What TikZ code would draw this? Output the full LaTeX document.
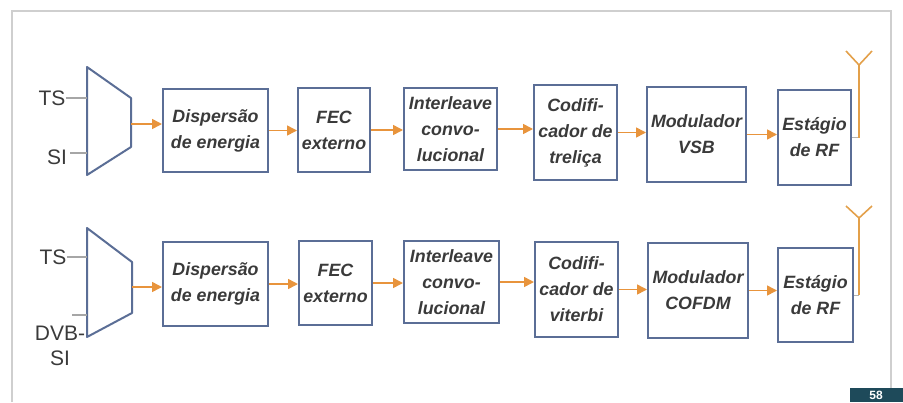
\documentclass[tikz,border=0pt]{standalone}
\usepackage{fontspec}
\setmainfont{Liberation Sans}
\usetikzlibrary{arrows.meta}
\definecolor{boxc}{HTML}{5B6E96}
\definecolor{arr}{HTML}{E8943C}
\definecolor{txt}{HTML}{3A3A3A}
\definecolor{framec}{HTML}{CFCFCF}
\definecolor{pg}{HTML}{1E4A5A}
\definecolor{antc}{HTML}{E3A04A}
\begin{document}
\begin{tikzpicture}[x=1pt,y=-1pt,
 blk/.style={draw=boxc,line width=2pt,fill=white,inner sep=0pt,align=center,text=txt,
   font=\fontsize{17.8}{26}\selectfont\bfseries\itshape},
 flow/.style={draw=arr,line width=1.6pt,-{Triangle[length=10pt,width=10pt]}},
 lbl/.style={text=txt,font=\fontsize{21}{25}\selectfont,inner sep=0pt,align=center},
 feed/.style={draw=gray!70,line width=1.2pt},
 mux/.style={draw=boxc,line width=2pt,fill=white,line join=round},
 ant/.style={draw=antc,line width=1.6pt},
 wire/.style={draw=gray!60,line width=1pt},
]
\useasboundingbox (0,0) rectangle (903,402);
% frame
\draw[framec,line width=1.5pt] (12,402) -- (12,11) -- (891,11) -- (891,388);
\fill[pg] (850,388) rectangle (903,402);
\node[text=white,font=\fontsize{12}{12}\selectfont\bfseries,inner sep=0pt] (pgn) at (876,395.5) {58};

% ---------- row 1 ----------
\draw[mux] (87,67) -- (131,98) -- (131,147) -- (87,175) -- cycle;
\coordinate (ml1) at (87,121);
\coordinate (mo1) at (131,124);
\node[lbl] (ts1) at (52,98) {TS};
\node[lbl] (si1) at (57,157) {SI};
\draw[feed] (ts1.east) -- (ts1.east -| ml1);
\draw[feed] ([yshift=4pt,xshift=3pt]si1.east) -- ([yshift=4pt]si1.east -| ml1);

\node[blk,minimum width=105pt,minimum height=83pt] (d1) at (215.5,130.5) {Dispersão\\de energia};
\node[blk,minimum width=72pt,minimum height=84pt] (f1) at (334,130) {FEC\\externo};
\node[blk,minimum width=93pt,minimum height=82pt] (i1) at (450.5,129) {Interleave\\convo-\\lucional};
\node[blk,minimum width=83pt,minimum height=95pt] (c1) at (575.5,132.5) {Codifi-\\cador de\\treliça};
\node[blk,minimum width=99pt,minimum height=95pt] (m1) at (696.5,134.5) {Modulador\\VSB};
\node[blk,minimum width=73pt,minimum height=95pt] (e1) at (814.5,137.5) {Estágio\\de RF};

\draw[flow] (mo1) -- (mo1 -| d1.west);
\draw[flow] (d1.east) -- (d1.east -| f1.west);
\draw[flow] (f1.east) -- (f1.east -| i1.west);
\draw[flow] (i1.east) -- (i1.east -| c1.west);
\draw[flow] (c1.east) -- (c1.east -| m1.west);
\draw[flow] (m1.east) -- (m1.east -| e1.west);

\coordinate (t1) at (859,65);
\coordinate (la1) at (846,51);
\coordinate (ra1) at (872,51);
\draw[wire] (e1.east) -- (e1.east -| t1);
\draw[ant] (e1.east -| t1) -- (t1);
\draw[ant] (la1) -- (t1) -- (ra1);

% ---------- row 2 ----------
\draw[mux] (87,228) -- (132,262) -- (132,313) -- (87,337) -- cycle;
\coordinate (ml2) at (87,282);
\coordinate (mo2) at (132,287);
\node[lbl] (ts2) at (53,257) {TS};
\node[lbl] (dv2) at (60,346) {DVB-\\SI};
\coordinate (dvw) at (72,315);
\draw[feed] (ts2.east) -- (ts2.east -| ml2);
\draw[feed] (dvw) -- (dvw -| ml2);

\node[blk,minimum width=105pt,minimum height=84pt] (d2) at (215.5,284) {Dispersão\\de energia};
\node[blk,minimum width=73pt,minimum height=84pt] (f2) at (335.5,283) {FEC\\externo};
\node[blk,minimum width=95pt,minimum height=82pt] (i2) at (451.5,282) {Interleave\\convo-\\lucional};
\node[blk,minimum width=83pt,minimum height=95pt] (c2) at (576.5,289.5) {Codifi-\\cador de\\viterbi};
\node[blk,minimum width=100pt,minimum height=95pt] (m2) at (698,290.5) {Modulador\\COFDM};
\node[blk,minimum width=75pt,minimum height=94pt] (e2) at (815.5,295) {Estágio\\de RF};

\draw[flow] (mo2) -- (mo2 -| d2.west);
\draw[flow] (d2.east) -- (d2.east -| f2.west);
\draw[flow] (f2.east) -- (f2.east -| i2.west);
\draw[flow] (i2.east) -- (i2.east -| c2.west);
\draw[flow] (c2.east) -- (c2.east -| m2.west);
\draw[flow] (m2.east) -- (m2.east -| e2.west);

\coordinate (t2) at (859,218);
\coordinate (la2) at (846,206);
\coordinate (ra2) at (872,206);
\draw[wire] (e2.east) -- (e2.east -| t2);
\draw[ant] (e2.east -| t2) -- (t2);
\draw[ant] (la2) -- (t2) -- (ra2);
\end{tikzpicture}
\end{document}
